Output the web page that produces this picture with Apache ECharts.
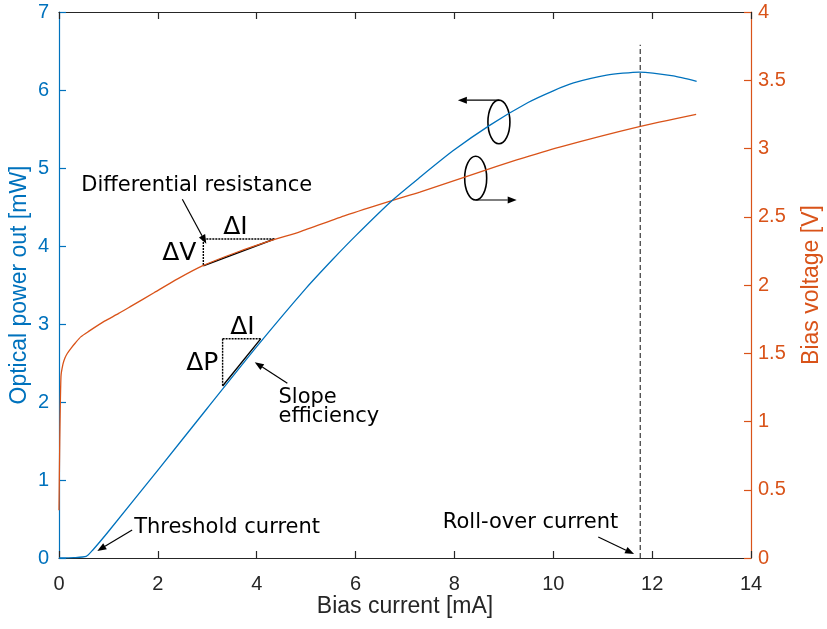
<!DOCTYPE html>
<html>
<head>
<meta charset="utf-8">
<title>Laser L-I-V</title>
<script src="https://cdn.jsdelivr.net/npm/echarts@6/dist/echarts.min.js"></script>
<style>
  html, body { margin: 0; padding: 0; background: #fff; }
  #chart { width: 827px; height: 629px; }
</style>
</head>
<body>
<div id="chart"></div>
<script>
// bias current [mA] / optical power [mW]
const powerCurrent = [0, 0.3, 0.55, 0.68, 1, 2.03, 3, 4, 5, 5.54, 6, 6.75, 7.3, 7.97, 8.72, 9.49, 10, 10.41, 11.08, 11.74, 12.43, 12.9];
const powerValues  = [0, 0.005, 0.02, 0.1, 0.34, 1.15, 1.92, 2.71, 3.46, 3.83, 4.13, 4.59, 4.88, 5.22, 5.55, 5.84, 5.99, 6.09, 6.19, 6.23, 6.18, 6.11];

// bias current [mA] / bias voltage [V]
const voltCurrent = [0, 0.015, 0.04, 0.08, 0.12, 0.17, 0.25, 0.33, 0.44, 0.6, 0.92, 1.2, 1.46, 1.93, 2.4, 2.9, 3.6, 4.33, 4.87, 5.8, 6.75, 7.3, 8.45, 9.26, 10.13, 11.74, 12.89];
const voltValues  = [0.35, 0.85, 1.33, 1.42, 1.465, 1.5, 1.54, 1.575, 1.62, 1.66, 1.735, 1.79, 1.845, 1.945, 2.045, 2.14, 2.24, 2.33, 2.39, 2.51, 2.62, 2.68, 2.82, 2.916, 3.01, 3.16, 3.25];

const rollOverCurrent = 11.76;
const rollOverTop = 6.58;

const xTicks = [0, 2, 4, 6, 8, 10, 12, 14];

const BLUE = '#0072BD';
const ORANGE = '#D95319';
const DARK = '#262626';
const labelFont = 'Liberation Sans, Arial, Helvetica, sans-serif';
const noteFont = 'DejaVu Sans, Verdana, sans-serif';

const chart = echarts.init(document.getElementById('chart'));

const tickStyle = { inside: true, length: 7 };

const option = {
    animation: false,
    grid: { left: 59, right: 76, top: 12, bottom: 71, outerBoundsMode: 'none', containLabel: false },
    xAxis: [
        {
            type: 'value', position: 'bottom', min: xTicks[0], max: xTicks[xTicks.length - 1], interval: 2,
            name: 'Bias current [mA]', nameLocation: 'middle', nameGap: 37, nameMoveOverlap: false,
            nameTextStyle: { color: DARK, fontSize: 23, fontFamily: labelFont },
            axisLine: { onZero: false, lineStyle: { color: DARK, width: 1.2 } },
            axisTick: Object.assign({}, tickStyle, { lineStyle: { color: DARK, width: 1.2 } }),
            axisLabel: { color: DARK, fontSize: 20, fontFamily: labelFont, margin: 16 },
            splitLine: { show: false }
        },
        {
            type: 'value', position: 'top', min: xTicks[0], max: xTicks[xTicks.length - 1], interval: 2,
            axisLine: { onZero: false, lineStyle: { color: DARK, width: 1.2 } },
            axisTick: Object.assign({}, tickStyle, { lineStyle: { color: DARK, width: 1.2 } }),
            axisLabel: { show: false },
            splitLine: { show: false }
        }
    ],
    yAxis: [
        {
            type: 'value', position: 'left', min: 0, max: 7, interval: 1,
            name: 'Optical power out [mW]', nameLocation: 'middle', nameGap: 28, nameRotate: 90, nameMoveOverlap: false,
            nameTextStyle: { color: BLUE, fontSize: 23, fontFamily: labelFont },
            axisLine: { show: true, onZero: false, lineStyle: { color: BLUE, width: 1.2 } },
            axisTick: Object.assign({}, tickStyle, { lineStyle: { color: BLUE, width: 1.2 } }),
            axisLabel: { color: BLUE, fontSize: 20, fontFamily: labelFont, margin: 10 },
            splitLine: { show: false }
        },
        {
            type: 'value', position: 'right', min: 0, max: 4, interval: 0.5,
            name: 'Bias voltage [V]', nameLocation: 'middle', nameGap: 49, nameRotate: 90, nameMoveOverlap: false,
            nameTextStyle: { color: ORANGE, fontSize: 23, fontFamily: labelFont },
            axisLine: { show: true, onZero: false, lineStyle: { color: ORANGE, width: 1.2 } },
            axisTick: Object.assign({}, tickStyle, { lineStyle: { color: ORANGE, width: 1.2 } }),
            axisLabel: { color: ORANGE, fontSize: 20, fontFamily: labelFont, margin: 7 },
            splitLine: { show: false }
        }
    ],
    series: [
        {
            name: 'Optical power', type: 'line', xAxisIndex: 0, yAxisIndex: 0,
            data: powerCurrent.map((x, i) => [x, powerValues[i]]),
            showSymbol: false, smooth: 0.2,
            lineStyle: { color: BLUE, width: 1.3 }, z: 3
        },
        {
            name: 'Bias voltage', type: 'line', xAxisIndex: 0, yAxisIndex: 1,
            data: voltCurrent.map((x, i) => [x, voltValues[i]]),
            showSymbol: false, smooth: 0.2,
            lineStyle: { color: ORANGE, width: 1.3 }, z: 2
        },
        {
            name: 'Roll-over', type: 'line', xAxisIndex: 0, yAxisIndex: 0,
            data: [[rollOverCurrent, 0], [rollOverCurrent, rollOverTop]],
            showSymbol: false,
            lineStyle: { color: '#555', width: 1.4, type: [5, 3] }, z: 1
        }
    ]
};

chart.setOption(option);

// annotation helpers (positions given in data coordinates)
function px(x, y, axis) {
    return chart.convertToPixel({ xAxisIndex: 0, yAxisIndex: axis || 0 }, [x, y]);
}

function arrow(a, b) {
    const dx = b[0] - a[0], dy = b[1] - a[1];
    const len = Math.sqrt(dx * dx + dy * dy);
    const ux = dx / len, uy = dy / len;
    const hl = 9, hw = 3.5;
    const base = [b[0] - ux * hl, b[1] - uy * hl];
    return [
        { type: 'line', shape: { x1: a[0], y1: a[1], x2: base[0], y2: base[1] }, style: { stroke: '#000', lineWidth: 1.2 } },
        { type: 'polygon', shape: { points: [b, [base[0] - uy * hw, base[1] + ux * hw], [base[0] + uy * hw, base[1] - ux * hw]] }, style: { fill: '#000' } }
    ];
}

function text(str, p, size, align) {
    return {
        type: 'text', x: p[0], y: p[1],
        style: { text: str, fill: '#000', font: size + 'px ' + noteFont, align: align || 'left', verticalAlign: 'middle' }
    };
}

function line(a, b, dash) {
    return { type: 'line', shape: { x1: a[0], y1: a[1], x2: b[0], y2: b[1] }, style: { stroke: '#000', lineWidth: 1.4, lineDash: dash || null } };
}

function buildGraphics() {
    const g = [];
    // differential resistance triangle (voltage axis)
    const v1 = px(2.92, 2.337, 1), v2 = px(4.36, 2.337, 1), v3 = px(2.92, 2.14, 1);
    g.push(line(v1, v2, [2, 1]), line(v1, v3, [2, 1]), line(v3, v2));
    // slope efficiency triangle (power axis)
    const p1 = px(3.31, 2.81), p2 = px(4.08, 2.81), p3 = px(3.31, 2.205);
    g.push(line(p1, p2, [2, 1]), line(p1, p3, [2, 1]), line(p3, p2));

    g.push(text('Differential resistance', px(0.45, 4.77), 21));
    g.push(text('\u0394I', px(3.57, 4.24), 25, 'center'));
    g.push(text('\u0394V', px(2.435, 3.91), 25, 'center'));
    g.push(text('\u0394I', px(3.71, 2.96), 25, 'center'));
    g.push(text('\u0394P', px(2.9, 2.5), 25, 'center'));
    g.push(text('Slope', px(4.44, 2.06), 21));
    g.push(text('efficiency', px(4.44, 1.81), 21));
    g.push(text('Threshold current', px(1.52, 0.385), 21));
    g.push(text('Roll-over current', px(7.765, 0.46), 21));

    g.push.apply(g, arrow(px(2.495, 4.60), px(2.98, 4.03)));
    g.push.apply(g, arrow(px(4.62, 2.24), px(3.96, 2.51)));
    g.push.apply(g, arrow(px(1.48, 0.36), px(0.775, 0.09)));
    g.push.apply(g, arrow(px(10.91, 0.27), px(11.635, 0.05)));

    // axis indicator ellipses
    const e1 = px(8.90, 5.59), e1top = px(8.90, 5.87);
    const e2 = px(8.43, 4.87), e2bot = px(8.43, 4.59);
    const rx = 11, ry1 = e1[1] - e1top[1], ry2 = e2bot[1] - e2[1];
    g.push({ type: 'ellipse', shape: { cx: e1[0], cy: e1[1], rx: rx, ry: ry1 }, style: { fill: 'none', stroke: '#000', lineWidth: 1.6 } });
    g.push({ type: 'ellipse', shape: { cx: e2[0], cy: e2[1], rx: rx, ry: ry2 }, style: { fill: 'none', stroke: '#000', lineWidth: 1.6 } });
    g.push.apply(g, arrow(e1top, px(8.07, 5.87)));
    g.push.apply(g, arrow(e2bot, px(9.26, 4.59)));
    return g;
}

chart.setOption({ graphic: buildGraphics() });

window.addEventListener('resize', () => {
    chart.resize();
    chart.setOption({ graphic: buildGraphics() }, { replaceMerge: ['graphic'] });
});
</script>
</body>
</html>
